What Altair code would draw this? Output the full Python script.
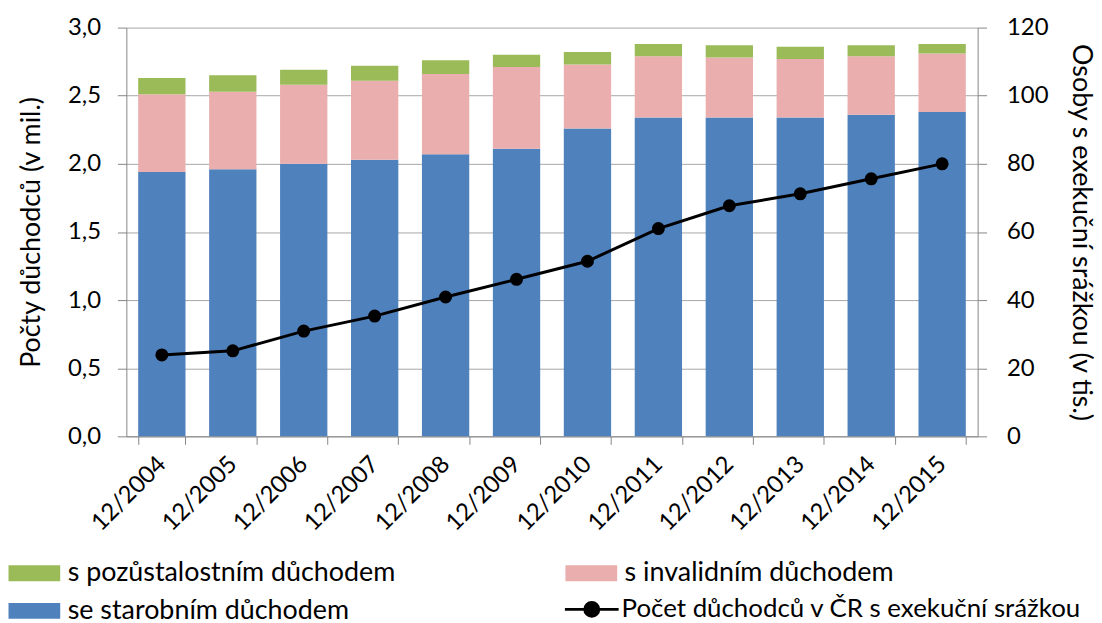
import altair as alt
import pandas as pd

years = ["12/2004", "12/2005", "12/2006", "12/2007", "12/2008", "12/2009",
         "12/2010", "12/2011", "12/2012", "12/2013", "12/2014", "12/2015"]
starobni = [1.94, 1.96, 2.00, 2.03, 2.07, 2.11, 2.26, 2.34, 2.34, 2.34, 2.36, 2.38]
invalidni = [0.57, 0.57, 0.58, 0.58, 0.59, 0.60, 0.47, 0.45, 0.44, 0.43, 0.43, 0.43]
pozustalostni = [0.12, 0.12, 0.11, 0.11, 0.10, 0.09, 0.09, 0.09, 0.09, 0.09, 0.08, 0.07]
exekuce = [23.9, 25.1, 30.9, 35.3, 40.9, 46.1, 51.4, 61.0, 67.7, 71.2, 75.6, 80.0]

S_POZ = "s pozůstalostním důchodem"
S_INV = "s invalidním důchodem"
S_STA = "se starobním důchodem"
S_LINE = "Počet důchodců v ČR s exekuční srážkou"

C_GREEN = "#9BBB59"
C_PINK = "#E9AEAD"
C_BLUE = "#4F81BD"

rows = []
for i, y in enumerate(years):
    rows.append({"rok": y, "serie": S_STA, "hodnota": starobni[i], "poradi": 0})
    rows.append({"rok": y, "serie": S_INV, "hodnota": invalidni[i], "poradi": 1})
    rows.append({"rok": y, "serie": S_POZ, "hodnota": pozustalostni[i], "poradi": 2})
bars_df = pd.DataFrame(rows)
line_df = pd.DataFrame({"rok": years, "pocet": exekuce, "serie": [S_LINE] * len(years)})

FONT = "Lato"
FS = 24
FS_BIG = 27
AXIS_COLOR = "#868686"
GRID_COLOR = "#A6A6A6"

x_enc = alt.X(
    "rok:N", sort=years,
    scale=alt.Scale(paddingInner=0.333, paddingOuter=0.167),
    axis=alt.Axis(title=None, labelAngle=-45, labelAlign="right", labelBaseline="middle",
                  tickBand="extent", grid=False, domainColor=AXIS_COLOR, tickColor=AXIS_COLOR,
                  tickSize=8, labelPadding=16, labelFontSize=FS, labelFont=FONT,
                  labelColor="black"),
)

# legend symbols: unit = 8 px, symbol centre at x = 8
RECT_PATH = "M-1,-1H5.5V1H-1Z"
LINE_PATH = ("M-1,0H5.75M3.25,0A0.875,0.875,0,1,1,1.5,0A0.875,0.875,0,1,1,3.25,0Z")

y_right_axis = alt.Axis(title="Osoby s exekuční srážkou (v tis.)", orient="right",
                        values=[0, 20, 40, 60, 80, 100, 120], grid=False,
                        domainColor=AXIS_COLOR, tickColor=AXIS_COLOR, tickSize=9,
                        labelPadding=20, labelFontSize=FS, labelFont=FONT,
                        labelColor="black", titleFontSize=FS_BIG, titleFont=FONT,
                        titleFontWeight="normal", titleColor="black", titlePadding=19)
y_right = alt.Y("pocet:Q", scale=alt.Scale(domain=[0, 120], nice=False), axis=y_right_axis)

bars = alt.Chart(bars_df).mark_bar(strokeWidth=0).encode(
    x=x_enc,
    y=alt.Y("hodnota:Q", stack="zero",
            scale=alt.Scale(domain=[0, 3], nice=False),
            axis=alt.Axis(title="Počty důchodců (v mil.)", orient="left",
                          values=[0, 0.5, 1, 1.5, 2, 2.5, 3],
                          labelExpr="replace(format(datum.value, '.1f'), '.', ',')",
                          grid=True, gridColor=GRID_COLOR, domainColor=AXIS_COLOR,
                          tickColor=AXIS_COLOR, tickSize=9, labelPadding=17,
                          labelFontSize=FS, labelFont=FONT, labelColor="black",
                          titleFontSize=FS_BIG, titleFont=FONT, titleFontWeight="normal",
                          titleColor="black", titlePadding=22)),
    fill=alt.Fill("serie:N",
                  scale=alt.Scale(domain=[S_POZ, S_INV, S_STA], range=[C_GREEN, C_PINK, C_BLUE]),
                  legend=alt.Legend(title=None, orient="none", legendX=-124, legendY=535,
                                    direction="horizontal", columns=2,
                                    values=[S_POZ, S_INV, S_STA],
                                    symbolType=RECT_PATH, symbolSize=256,
                                    symbolStrokeWidth=0, labelFontSize=FS_BIG, labelFont=FONT,
                                    labelColor="black", labelOffset=38, columnPadding=165,
                                    rowPadding=10, padding=0, labelLimit=600)),
    order=alt.Order("poradi:Q", sort="ascending"),
)

line = alt.Chart(line_df).mark_line(strokeWidth=3).encode(
    x=x_enc,
    y=y_right,
    stroke=alt.Stroke("serie:N", scale=alt.Scale(domain=[S_LINE], range=["black"]),
                      legend=alt.Legend(title=None, orient="none", legendX=436, legendY=572,
                                        symbolType=LINE_PATH, symbolSize=256,
                                        symbolStrokeWidth=3, symbolStrokeColor="black",
                                        symbolFillColor="black", labelFontSize=26,
                                        labelFont=FONT, labelColor="black", labelOffset=36,
                                        padding=0, labelLimit=600)),
)

points = alt.Chart(line_df).mark_point(filled=True, size=170, color="black", opacity=1).encode(
    x=x_enc,
    y=y_right,
)

chart = alt.layer(bars, alt.layer(line, points)).resolve_scale(
    y="independent", fill="independent", stroke="independent"
).properties(
    width=856, height=411,
    autosize=alt.AutoSizeParams(type="none"),
    padding={"left": 119, "top": 18, "right": 117, "bottom": 186},
    background="white",
).configure_view(stroke=None)

chart.save("out.html", embed_options={"renderer": "svg", "actions": False})
